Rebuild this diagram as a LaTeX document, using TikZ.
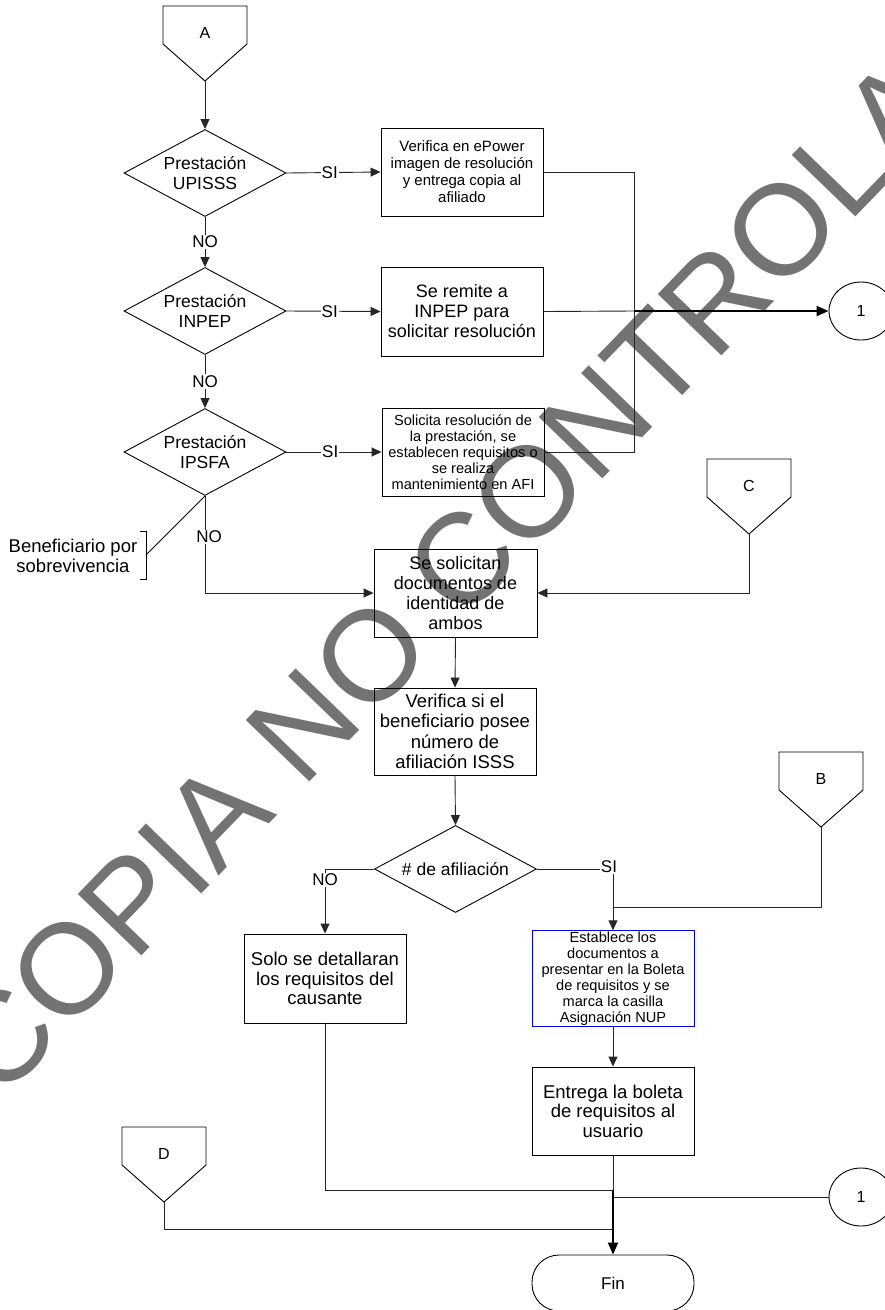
\documentclass[tikz,border=0pt]{standalone}
\usepackage{fontspec}
\setmainfont{Liberation Sans}
\usetikzlibrary{shapes.geometric,arrows.meta}

% off-page connector: pentagon pointing down, label node #1, tip coordinate #1tip
\newcommand\offpg[4]{%
  \draw[shapeline] (#3-42,#4) -- (#3+42,#4) -- (#3+42,#4+38)
    -- (#3,#4+75) coordinate (#1tip) -- (#3-42,#4+38) -- cycle;
  \node[conlab] (#1) at (#3,#4+27) {#2};
}

\begin{document}
\begin{tikzpicture}[x=1pt,y=-1pt,
  shapeline/.style={draw=black, line width=0.9pt},
  box/.style={shapeline, rectangle, inner sep=1pt, align=center,
    minimum width=162pt, minimum height=88pt},
  dec/.style={shapeline, diamond, aspect=1.86, inner sep=0pt,
    minimum width=162pt, minimum height=87pt, align=center,
    font=\fontsize{17.5}{19.5}\selectfont},
  flow/.style={draw=black!85, line width=0.9pt},
  arr/.style={flow, -{Triangle[length=10pt,width=9pt]}},
  heavy/.style={draw=black, line width=2pt, -{Triangle[length=12pt,width=10pt]}},
  lab/.style={fill=white, inner sep=1pt, font=\fontsize{17}{19}\selectfont},
  conlab/.style={inner sep=0pt, font=\fontsize{16}{18}\selectfont},
  conn/.style={shapeline, ellipse, minimum width=64pt, minimum height=58pt,
    inner sep=0pt, font=\fontsize{16}{18}\selectfont},
  big/.style={font=\fontsize{18}{20}\selectfont},
  small/.style={font=\fontsize{15}{17}\selectfont},
  tiny/.style={font=\fontsize{14.6}{16}\selectfont},
]
\fill[white] (0,0) rectangle (885,1310);
\useasboundingbox (0,0) rectangle (885,1310);

% watermark
\node[text=black!55, rotate=46, inner sep=0pt,
  font=\fontsize{128.5}{130}\selectfont] (wm) at (509,512) {COPIA NO CONTROLADA};

% off-page connectors
\offpg{A}{A}{205}{6}
\offpg{C}{C}{749}{459}
\offpg{B}{B}{821}{752}
\offpg{D}{D}{164}{1127}

% decisions
\node[dec] (dU) at (205,173) {Prestación\\UPISSS};
\node[dec] (dI) at (205,311) {Prestación\\INPEP};
\node[dec] (dF) at (205,452) {Prestación\\IPSFA};
\node[dec] (dA) at (455.5,869) {\# de afiliación};

% process boxes
\node[box, small] (b1) at (462,172) {Verifica en ePower\\imagen de resolución\\y entrega copia al\\afiliado};
\node[box, big, minimum height=89pt] (b2) at (462,311.5) {Se remite a\\INPEP para\\solicitar resolución};
\node[box, tiny] (b3) at (463,452) {Solicita resolución de\\la prestación, se\\establecen requisitos o\\se realiza\\mantenimiento en AFI};
\node[box, big, minimum width=163pt] (b4) at (455.5,593) {Se solicitan\\documentos de\\identidad de\\ambos};
\node[box, font=\fontsize{18.5}{20.5}\selectfont, minimum height=87pt] (b5) at (455,731.5) {Verifica si el\\beneficiario posee\\número de\\afiliación ISSS};
\node[box, font=\fontsize{18.5}{19.5}\selectfont, minimum height=89pt] (b6) at (325,978.5) {Solo se detallaran\\los requisitos del\\causante};
\node[box, tiny, draw=blue!90!black, line width=0.8pt, minimum height=93pt] (b7) at (613,978.5) {Establece los\\documentos a\\presentar en la Boleta\\de requisitos y se\\marca la casilla\\Asignación NUP};
\node[box, font=\fontsize{18.5}{19.5}\selectfont] (b8) at (613,1111) {Entrega la boleta\\de requisitos al\\usuario};

% terminator and on-page connectors
\node[shapeline, rounded corners=27pt, minimum width=162pt, minimum height=56pt,
  font=\fontsize{17}{19}\selectfont] (fin) at (613,1283) {Fin};
\node[conn] (c1) at (861,311) {1};
\node[conn] (c2) at (861,1197) {1};

% annotation
\node[align=center, inner sep=0pt, font=\fontsize{18.5}{19.5}\selectfont] (ben) at (73,556) {Beneficiario por\\sobrevivencia};
\draw[shapeline] (140,531) -- (146,531) -- (146,579) -- (140,579);
\coordinate (benk) at (146,555);
\draw[shapeline] (benk) -- (dF.south);

% junction points
\coordinate (jn) at (634,311);
\coordinate (jB) at (613,907);
\coordinate (jS) at (613,1190);
\coordinate (j1) at (613,1197);
\coordinate (jD) at (613,1229);

% upper flow
\draw[arr] (Atip) -- (dU.north);
\draw[arr] (dU.east) -- node[lab, pos=0.46] {SI} (b1.west);
\draw[arr] (dU.south) -- node[lab] {NO} (dI.north);
\draw[arr] (dI.east) -- node[lab, pos=0.46] {SI} (b2.west);
\draw[arr] (dI.south) -- node[lab] {NO} (dF.north);
\draw[arr] (dF.east) -- node[lab, pos=0.46] {SI} (b3.west);
\draw[flow] (b1.east) -| (jn);
\draw[flow] (b3.east) -| (jn);
\draw[flow] (b2.east) -- (jn);
\draw[heavy] (jn) -- (c1.west);
\draw[arr] (dF.south) |- node[lab, pos=0.21, xshift=4pt] {NO} (b4.west);
\draw[arr] (Ctip) |- (b4.east);

% middle flow
\draw[arr] (b4.south) -- (b5.north);
\draw[arr] (b5.south) -- (dA.north);
\draw[arr] (dA.west) -| node[lab, pos=0.5, yshift=-11pt] {NO} (b6.north);
\draw[arr] (dA.east) -| node[lab, pos=0.5, xshift=-4pt, yshift=2pt] {SI} (b7.north);
\draw[flow] (Btip) |- (jB);
\draw[arr] (b7.south) -- (b8.north);

% lower flow
\draw[flow] (b6.south) |- (jS);
\draw[flow] (b8.south) -- (jS);
\draw[flow] (c2.west) -- (j1);
\draw[flow] (Dtip) |- (jD);
\draw[heavy] (jS) -- (fin.north);
\end{tikzpicture}
\end{document}
